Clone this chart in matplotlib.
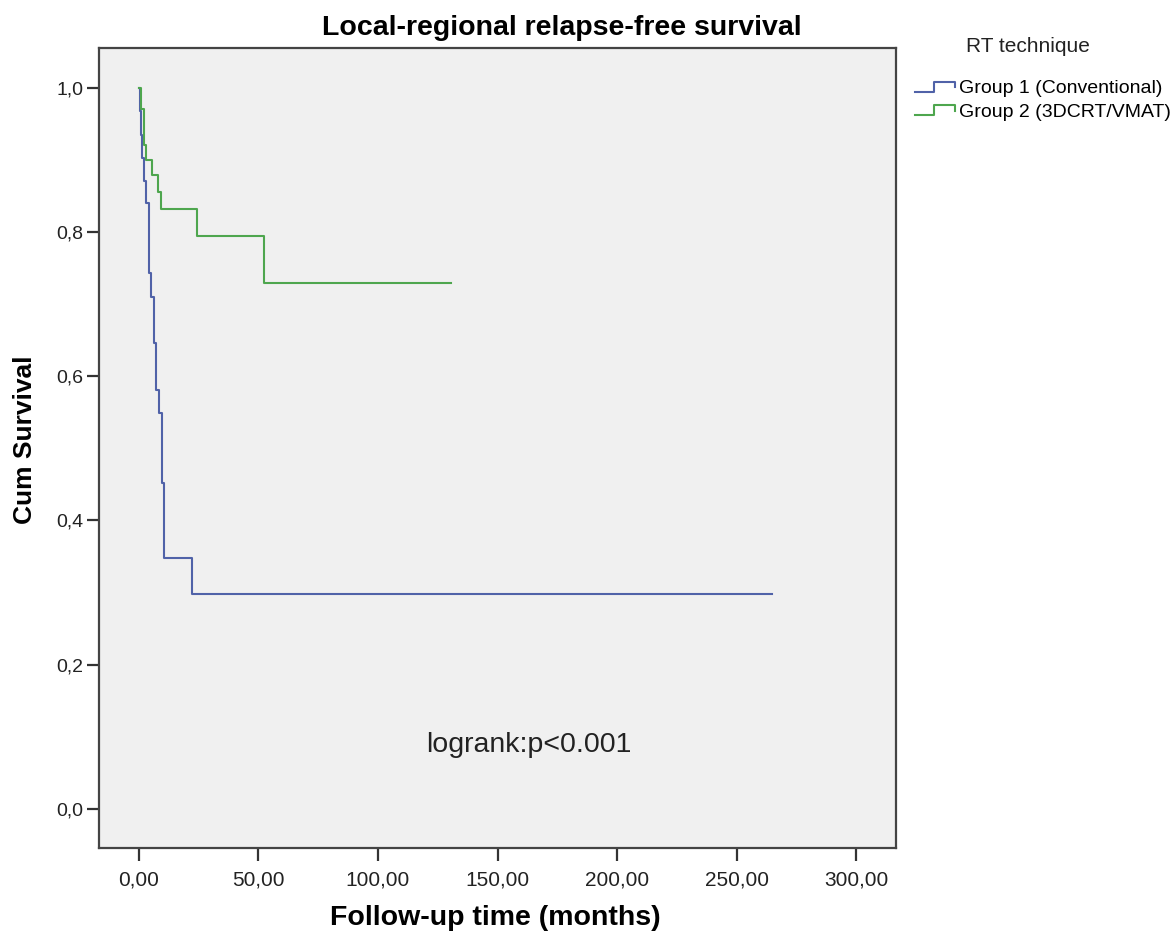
import matplotlib
matplotlib.use("Agg")
import matplotlib.pyplot as plt
from matplotlib.lines import Line2D
from matplotlib.legend_handler import HandlerBase
from matplotlib.ticker import FuncFormatter

# Kaplan-Meier steps (time in months, cum survival)
g1_time = [0, 0.3, 0.8, 1.3, 2.2, 3.0, 4.2, 5.2, 6.2, 7.3, 8.5, 9.5, 10.5, 22.0, 265.0]
g1_surv = [1.0, 0.968, 0.935, 0.903, 0.871, 0.840, 0.743, 0.710, 0.646, 0.581, 0.549, 0.452, 0.348, 0.298, 0.298]
g2_time = [0, 1.0, 2.0, 2.8, 5.4, 8.0, 9.2, 24.3, 52.3, 130.5]
g2_surv = [1.0, 0.97, 0.92, 0.90, 0.879, 0.856, 0.832, 0.795, 0.729, 0.729]

labels = ["Group 1 (Conventional)", "Group 2 (3DCRT/VMAT)"]
colors = ["#5062a8", "#4ea64e"]
x_ticks = [0, 50, 100, 150, 200, 250, 300]
y_ticks = [0.0, 0.2, 0.4, 0.6, 0.8, 1.0]

plt.rcParams['font.family'] = ['Liberation Sans', 'DejaVu Sans']


class StepHandler(HandlerBase):
    # SPSS style step icon for the legend
    def create_artists(self, legend, orig_handle, xdescent, ydescent, width, height, fontsize, trans):
        x0 = -xdescent
        y0 = -ydescent
        xs = [x0, x0 + 0.45 * width, x0 + 0.45 * width, x0 + 0.95 * width, x0 + 0.95 * width]
        ys = [y0 + 0.1 * height, y0 + 0.1 * height, y0 + 0.85 * height, y0 + 0.85 * height, y0 + 0.45 * height]
        line = Line2D(xs, ys, color=orig_handle.get_color(), lw=1.5)
        line.set_transform(trans)
        return [line]


fig = plt.figure(figsize=(11.75, 9.39), dpi=100)
ax = fig.add_axes([99 / 1175, 1 - 848 / 939, (896 - 99) / 1175, (848 - 48) / 939])
ax.set_facecolor("#f0f0f0")

h1, = ax.step(g1_time, g1_surv, where="post", color=colors[0], lw=1.5, label=labels[0])
h2, = ax.step(g2_time, g2_surv, where="post", color=colors[1], lw=1.5, label=labels[1])

ax.set_xlim(-16.7, 316.7)
ax.set_ylim(-0.054, 1.055)
ax.set_xticks(x_ticks)
ax.set_yticks(y_ticks)
ax.xaxis.set_major_formatter(FuncFormatter(lambda v, p: f"{v:.2f}".replace(".", ",")))
ax.yaxis.set_major_formatter(FuncFormatter(lambda v, p: f"{v:.1f}".replace(".", ",")))
ax.tick_params(axis="both", length=9, width=1.6, color="#333333", labelcolor="#222222")
ax.tick_params(axis="y", pad=2, labelsize=14)
ax.tick_params(axis="x", pad=7, labelsize=15)
for s in ax.spines.values():
    s.set_color("#444444")
    s.set_linewidth(1.6)

ax.text(163, 0.089, "logrank:p<0.001", fontsize=20.5, color="#222222", ha="center", va="center")

fig.text(562 / 1175, 1 - 28 / 939, "Local-regional relapse-free survival", fontsize=20.5,
         fontweight="bold", ha="center", va="center")
fig.text(495 / 1175, 1 - 918 / 939, "Follow-up time (months)", fontsize=20.5,
         fontweight="bold", ha="center", va="center")
fig.text(25 / 1175, 1 - 440 / 939, "Cum Survival", fontsize=19, fontweight="bold",
         rotation=90, ha="center", va="center")

fig.text(1028 / 1175, 1 - 47 / 939, "RT technique", fontsize=15, color="#222222",
         ha="center", va="center")
fig.legend(handles=[h1, h2], labels=labels,
           loc="upper left", bbox_to_anchor=(905 / 1175, 1 - 70 / 939),
           frameon=False, fontsize=14,
           handler_map={Line2D: StepHandler()},
           handlelength=2.2, handletextpad=0.1, labelspacing=0.3, borderpad=0)

fig.savefig("out.png", dpi=100)
